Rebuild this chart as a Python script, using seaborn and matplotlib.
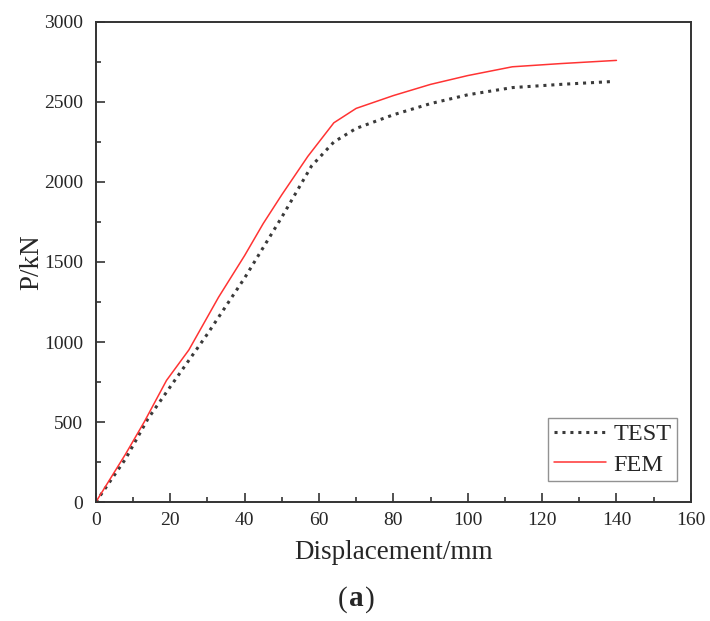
import matplotlib
matplotlib.use("Agg")
import matplotlib.pyplot as plt
import seaborn as sns
from matplotlib.ticker import MultipleLocator
from matplotlib.offsetbox import TextArea, HPacker, AnchoredOffsetbox

test_x = [0, 8, 14, 20, 30, 40, 50, 58, 64, 70, 80, 90, 100, 112, 125, 139]
test_y = [0, 270, 520, 720, 1050, 1400, 1780, 2100, 2250, 2335, 2420, 2490, 2545, 2590, 2610, 2628]
fem_x = [0, 8, 13, 19, 25, 33, 40, 45, 50, 57, 64, 70, 80, 90, 100, 112, 125, 140]
fem_y = [0, 300, 500, 760, 950, 1280, 1540, 1740, 1920, 2160, 2370, 2460, 2540, 2610, 2665, 2720, 2740, 2760]
xticks = [0, 20, 40, 60, 80, 100, 120, 140, 160]
yticks = [0, 500, 1000, 1500, 2000, 2500, 3000]

sns.set_style("white")
plt.rcParams['font.family'] = ['Liberation Serif', 'DejaVu Serif']

fig = plt.figure(figsize=(7.1, 6.21), dpi=100)
ax = fig.add_axes([0.135, 0.1916, 0.838, 0.773])

sns.lineplot(x=test_x, y=test_y, ax=ax, color='#3a3a3a', linestyle=(0, (1, 1.6)),
             linewidth=2.2, label='TEST', sort=False, estimator=None)
sns.lineplot(x=fem_x, y=fem_y, ax=ax, color='#ff3333', linewidth=1.1,
             label='FEM', sort=False, estimator=None)

ax.set_xlim(0, 160)
ax.set_ylim(0, 3000)
ax.set_xticks(xticks)
ax.set_yticks(yticks)
ax.xaxis.set_minor_locator(MultipleLocator(10))
ax.yaxis.set_minor_locator(MultipleLocator(250))
ax.tick_params(which='major', direction='in', length=6.5, width=1.2, color='#333333',
               labelsize=14, bottom=True, left=True, top=False, right=False)
ax.tick_params(axis='x', which='major', pad=7)
ax.tick_params(axis='y', which='major', pad=9)
ax.tick_params(which='minor', direction='in', length=3.5, width=1.2, color='#333333',
               bottom=True, left=True, top=False, right=False)
for s in ax.spines.values():
    s.set_linewidth(1.4)
    s.set_color('#333333')

ax.set_xlabel('Displacement/mm', fontsize=19.5, labelpad=8)
ax.set_ylabel('P/kN', fontsize=19.5, labelpad=0)

leg = ax.legend(loc='lower right', bbox_to_anchor=(0.9765, 0.044), fontsize=17.5,
                frameon=True, fancybox=False, edgecolor='#777777', borderpad=0.22,
                handlelength=2.15, handletextpad=0.3, labelspacing=0.35, borderaxespad=0)
leg.get_frame().set_linewidth(1.0)

parts = [TextArea('(', textprops=dict(fontsize=21)),
         TextArea('a', textprops=dict(fontsize=21, fontweight='bold')),
         TextArea(')', textprops=dict(fontsize=21))]
box = HPacker(children=parts, align='baseline', pad=0, sep=1)
anch = AnchoredOffsetbox(loc='center', child=box, frameon=False,
                         bbox_to_anchor=(356 / 710, 1 - 599 / 621),
                         bbox_transform=fig.transFigure, borderpad=0, pad=0)
fig.add_artist(anch)

fig.savefig('out.png', dpi=100)
